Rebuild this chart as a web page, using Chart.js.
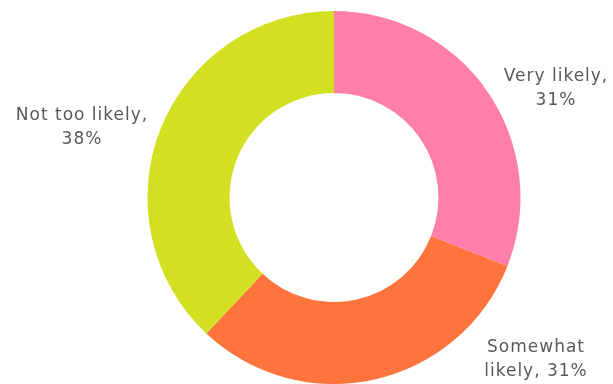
<!DOCTYPE html>
<html>
<head>
<meta charset="utf-8">
<script src="https://cdn.jsdelivr.net/npm/chart.js@4/dist/chart.umd.min.js"></script>
<style>
  html, body { margin:0; padding:0; background:#fff; }
  #wrap { width:613px; height:384px; position:relative; }
</style>
</head>
<body>
<div id="wrap"><canvas id="donut"></canvas></div>
<script>
// chart data
const categories = ['Very likely', 'Somewhat likely', 'Not too likely'];
const shares = [31, 31, 38];
const sliceColors = ['#ff7eab', '#ff733c', '#d3e021'];
// label lines as shown next to each slice
const labelLines = [['Very likely,', '31%'], ['Somewhat', 'likely, 31%'], ['Not too likely,', '38%']];
const labelSpots = [[556, 77], [536, 348], [82, 116]];

const outsideLabels = {
  id: 'outsideLabels',
  afterDraw(chart) {
    const ctx = chart.ctx;
    ctx.save();
    ctx.font = '17px "DejaVu Sans", sans-serif';
    ctx.letterSpacing = '1px';
    ctx.fillStyle = '#595959';
    ctx.textAlign = 'center';
    ctx.textBaseline = 'middle';
    labelLines.forEach((lines, i) => {
      const [x, y] = labelSpots[i];
      lines.forEach((t, j) => ctx.fillText(t, x, y + j * 24));
    });
    ctx.restore();
  }
};

new Chart(document.getElementById('donut').getContext('2d'), {
  type: 'doughnut',
  data: { labels: categories, datasets: [{ data: shares, backgroundColor: sliceColors, borderWidth: 0 }] },
  options: {
    responsive: true, maintainAspectRatio: false, animation: false,
    cutout: '56%',
    layout: { padding: { top: 11, bottom: 0, left: 55, right: 0 } },
    plugins: { legend: { display: false }, tooltip: { enabled: false } }
  },
  plugins: [outsideLabels]
});
</script>
</body>
</html>
